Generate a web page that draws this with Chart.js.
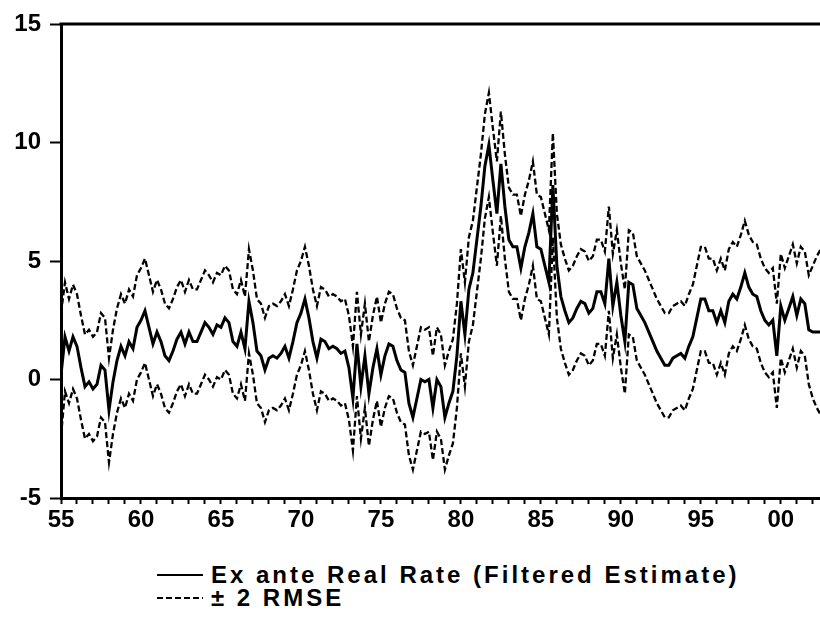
<!DOCTYPE html>
<html>
<head>
<meta charset="utf-8">
<script src="https://cdn.jsdelivr.net/npm/chart.js@4.4.1/dist/chart.umd.min.js"></script>
<style>
    html, body { margin: 0; padding: 0; background: #fff; }
    #wrap { position: relative; width: 820px; height: 634px; }
    #chartRealRate { position: absolute; left: 0; top: 0; }
    .legend {
        position: absolute; left: 157px; top: 563px;
        font: bold 24px "Liberation Sans", Arial, sans-serif;
        letter-spacing: 3px; color: #000;
    }
    .legend .row { display: flex; align-items: center; height: 23px; white-space: nowrap; }
    .legend .swatch { width: 46px; height: 2px; margin-right: 8px; }
    .legend .solid { background: #000; }
    .legend .dashed { background: repeating-linear-gradient(to right, #000 0 6px, transparent 6px 9px); }
</style>
</head>
<body>
<div id="wrap">
    <canvas id="chartRealRate" width="820" height="540"></canvas>
    <div class="legend">
        <div class="row"><span class="swatch solid"></span>Ex ante Real Rate (Filtered Estimate)</div>
        <div class="row"><span class="swatch dashed"></span>± 2 RMSE</div>
    </div>
</div>
<script>
// quarterly observations, first one is 1955Q1
const startYear = 1955;

// ex ante real rate, filtered estimate (percent), one row per year
const realRate = [
    0.2, 1.8, 1.2, 1.8,
    1.4, 0.5, -0.3, -0.1,
    -0.4, -0.2, 0.6, 0.4,
    -1.3, -0.1, 0.8, 1.4,
    1.0, 1.6, 1.3, 2.2,
    2.5, 2.9, 2.2, 1.5,      // 1960
    2.0, 1.6, 1.0, 0.8,
    1.2, 1.7, 2.0, 1.5,
    2.0, 1.6, 1.6, 2.0,
    2.4, 2.2, 1.9, 2.3,
    2.2, 2.6, 2.4, 1.6,      // 1965
    1.4, 2.0, 1.3, 3.3,
    2.4, 1.2, 1.0, 0.4,
    0.9, 1.0, 0.9, 1.1,
    1.4, 0.9, 1.6, 2.4,
    2.8, 3.4, 2.6, 1.6,      // 1970
    0.9, 1.7, 1.6, 1.3,
    1.4, 1.3, 1.1, 1.2,
    0.5, -0.8, 1.5, -0.3,
    1.0, -0.6, 0.5, 1.3,
    0.2, 1.0, 1.5, 1.4,      // 1975
    0.8, 0.4, 0.3, -1.0,
    -1.6, -0.8, 0.0, -0.1,
    0.0, -1.2, 0.0, -0.3,
    -1.6, -1.0, -0.5, 1.0,
    3.3, 1.9, 3.8, 4.5,      // 1980
    5.9, 7.3, 9.0, 9.9,
    8.4, 7.0, 9.1, 7.3,
    5.9, 5.6, 5.6, 4.7,
    5.6, 6.2, 7.0, 5.6,
    5.5, 4.8, 4.1, 8.2,      // 1985
    4.8, 3.5, 2.9, 2.4,
    2.6, 3.0, 3.3, 3.2,
    2.8, 3.0, 3.7, 3.7,
    3.2, 5.1, 3.1, 4.1,
    2.7, 1.6, 4.1, 4.0,      // 1990
    3.0, 2.7, 2.4, 2.0,
    1.6, 1.2, 0.9, 0.6,
    0.6, 0.9, 1.0, 1.1,
    0.9, 1.4, 1.8, 2.6,
    3.4, 3.4, 2.9, 2.9,      // 1995
    2.4, 2.9, 2.4, 3.3,
    3.6, 3.4, 3.9, 4.5,
    3.9, 3.6, 3.5, 2.9,
    2.5, 2.3, 2.5, 1.0,
    3.1, 2.5, 3.0, 3.5,      // 2000
    2.7, 3.4, 3.2, 2.1,
    2.0, 2.0, 2.0
];

// two root mean squared errors of the estimate, same layout
const twoRmse = [
    2.6, 2.3, 2.2, 2.2,
    2.2, 2.2, 2.2, 2.2,
    2.2, 2.2, 2.2, 2.2,
    2.2, 2.2, 2.2, 2.2,
    2.2, 2.2, 2.2, 2.2,
    2.2, 2.2, 2.2, 2.2,      // 1960
    2.2, 2.2, 2.2, 2.2,
    2.2, 2.2, 2.2, 2.2,
    2.2, 2.2, 2.2, 2.2,
    2.2, 2.2, 2.2, 2.2,
    2.2, 2.2, 2.2, 2.2,      // 1965
    2.2, 2.2, 2.2, 2.2,
    2.2, 2.2, 2.2, 2.2,
    2.2, 2.2, 2.2, 2.2,
    2.2, 2.2, 2.2, 2.2,
    2.2, 2.2, 2.2, 2.2,      // 1970
    2.2, 2.2, 2.2, 2.2,
    2.2, 2.2, 2.2, 2.2,
    2.2, 2.2, 2.2, 2.2,
    2.2, 2.2, 2.2, 2.2,
    2.2, 2.2, 2.2, 2.2,      // 1975
    2.2, 2.2, 2.2, 2.2,
    2.2, 2.2, 2.2, 2.2,
    2.2, 2.2, 2.2, 2.2,
    2.2, 2.2, 2.2, 2.2,
    2.2, 2.2, 2.2, 2.2,      // 1980
    2.2, 2.2, 2.2, 2.2,
    2.2, 2.2, 2.2, 2.2,
    2.2, 2.2, 2.2, 2.2,
    2.2, 2.2, 2.2, 2.2,
    2.2, 2.2, 2.2, 2.2,      // 1985
    2.2, 2.2, 2.2, 2.2,
    2.2, 2.2, 2.2, 2.2,
    2.2, 2.2, 2.2, 2.2,
    2.2, 2.2, 2.2, 2.2,
    2.2, 2.2, 2.2, 2.2,      // 1990
    2.2, 2.2, 2.2, 2.2,
    2.2, 2.2, 2.2, 2.2,
    2.2, 2.2, 2.2, 2.2,
    2.2, 2.2, 2.2, 2.2,
    2.2, 2.2, 2.2, 2.2,      // 1995
    2.2, 2.2, 2.2, 2.2,
    2.2, 2.2, 2.2, 2.2,
    2.2, 2.2, 2.2, 2.2,
    2.2, 2.2, 2.2, 2.2,
    2.2, 2.2, 2.2, 2.2,      // 2000
    2.2, 2.2, 2.2, 2.3,
    2.8, 3.2, 3.5
];

const labelYears = [1955, 1960, 1965, 1970, 1975, 1980, 1985, 1990, 1995, 2000];
const yMin = -5, yMax = 15, yStep = 5;
const xMax = 2002.45;

const tickFont = { family: '"Liberation Sans", Arial, sans-serif', size: 24, weight: 'bold' };

const dates = realRate.map((v, i) => startYear + i / 4);
const centerPts = realRate.map((v, i) => ({ x: dates[i], y: v }));
const upperPts = realRate.map((v, i) => ({ x: dates[i], y: v + twoRmse[i] }));
const lowerPts = realRate.map((v, i) => ({ x: dates[i], y: v - twoRmse[i] }));

// top edge of the frame
const topRule = {
    id: 'topRule',
    afterDraw(chart) {
        const { ctx, chartArea } = chart;
        ctx.save();
        ctx.strokeStyle = '#000';
        ctx.lineWidth = 3;
        ctx.beginPath();
        ctx.moveTo(chartArea.left - 1.5, chartArea.top);
        ctx.lineTo(chart.width, chartArea.top);
        ctx.stroke();
        ctx.restore();
    }
};

const bandStyle = {
    borderColor: '#000',
    borderWidth: 2.3,
    borderDash: [6, 3],
    pointRadius: 0,
    tension: 0,
    fill: false
};

new Chart(document.getElementById('chartRealRate'), {
    type: 'line',
    data: {
        datasets: [
            Object.assign({ label: '+2 RMSE', data: upperPts }, bandStyle),
            Object.assign({ label: '-2 RMSE', data: lowerPts }, bandStyle),
            {
                label: 'Ex ante Real Rate (Filtered Estimate)',
                data: centerPts,
                borderColor: '#000',
                borderWidth: 3,
                pointRadius: 0,
                tension: 0,
                fill: false
            }
        ]
    },
    options: {
        responsive: false,
        animation: false,
        devicePixelRatio: 1,
        layout: { padding: { top: 24, right: 0, bottom: 0, left: 0 } },
        plugins: { legend: { display: false }, tooltip: { enabled: false } },
        scales: {
            x: {
                type: 'linear',
                min: startYear,
                max: xMax,
                border: { display: true, color: '#000', width: 3 },
                grid: { display: true, drawOnChartArea: false, drawTicks: true, tickLength: 6, tickWidth: 2, tickColor: '#000' },
                ticks: {
                    stepSize: 1,
                    autoSkip: false,
                    includeBounds: false,
                    maxRotation: 0,
                    padding: 2,
                    color: '#000',
                    font: tickFont,
                    callback: v => labelYears.includes(v) ? String(v % 100).padStart(2, '0') : ''
                },
                afterFit: s => { s.height = 42; }
            },
            y: {
                min: yMin,
                max: yMax,
                border: { display: true, color: '#000', width: 3 },
                grid: { display: true, drawOnChartArea: false, drawTicks: true, tickLength: 11, tickWidth: 2, tickColor: '#000' },
                ticks: { stepSize: yStep, padding: 9, color: '#000', font: tickFont },
                afterFit: s => { s.width = 61; }
            }
        }
    },
    plugins: [topRule]
});
</script>
</body>
</html>
